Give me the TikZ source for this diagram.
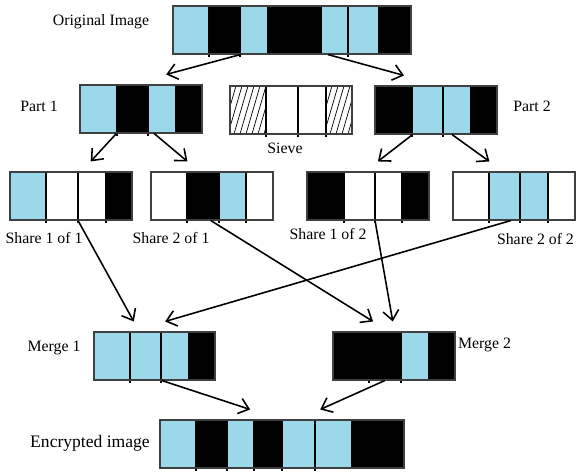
\documentclass[tikz,border=0pt]{standalone}
\usepackage{fontspec}
\setmainfont{Liberation Serif}
\usetikzlibrary{arrows.meta,calc,fit}

\definecolor{cellCyan}{RGB}{155,217,234}
\definecolor{edgeGray}{RGB}{64,64,64}

% fill the cells of one strip: #1 top, #2 bottom, #3 list of x0/x1/colour
\newcommand{\stripcells}[3]{%
  \foreach \xa/\xb/\col in {#3} \fill[\col] (\xa,#1) rectangle (\xb,#2);}
% thin cell borders, sticking out a little below the strip
\newcommand{\stripdividers}[3]{%
  \foreach \xd in {#3} \draw[cellLine] (\xd,#1) -- (\xd,#2+3);}
% arrow from a point on the bottom of #1 to just above the top of #3
\newcommand{\flowlink}[4]{%
  \draw[flowArrow] ($(#1.south west)!#2!(#1.south east)$) --
    ($(#3.north west)!#4!(#3.north east)+(0,-10)$);}

\begin{document}
\begin{tikzpicture}[
    x=0.02cm, y=-0.02cm,
    stripBox/.style={draw=edgeGray, line width=0.6pt, inner sep=0pt},
    cellLine/.style={draw=black, line width=0.6pt},
    hatchLine/.style={draw=black, line width=0.4pt},
    labelText/.style={font=\fontsize{9}{11}\selectfont, inner sep=1pt},
    flowArrow/.style={line width=0.9pt, -{Straight Barb[length=5.5pt,width=9pt]}}
]
    \useasboundingbox (0,0) rectangle (576,472);

    % --- ORIGINAL IMAGE ---
    \stripcells{6}{54}{173/209/cellCyan, 209/240/black, 240/267/cellCyan,
                       267/322/black, 322/378/cellCyan, 378/411/black}
    \stripdividers{6}{54}{209,240,348}
    \node[stripBox, fit={(173,6) (411,54)}] (origImg) {};
    \node[labelText] (origLabel) at (101,22) {Original Image};

    % --- PART 1, SIEVE, PART 2 ---
    \stripcells{85}{133}{80/117/cellCyan, 117/148/black, 148/175/cellCyan, 175/202/black}
    \stripdividers{85}{133}{117,148}
    \node[stripBox, fit={(80,85) (202,133)}] (partOne) {};
    \node[labelText] (partOneLabel) at (39,106) {Part 1};

    \begin{scope}
        \clip (230,86) rectangle (266,134) (326,86) rectangle (352,134);
        \foreach \s in {216,222,...,356} \draw[hatchLine] (\s,134) -- ++(14,-48);
    \end{scope}
    \stripdividers{86}{134}{266,298,326}
    \node[stripBox, fit={(230,86) (352,134)}] (sieveBox) {};
    \node[labelText] (sieveLabel) at (285,148) {Sieve};

    \stripcells{86}{134}{375/412/black, 412/470/cellCyan, 470/497/black}
    \stripdividers{86}{134}{412,443}
    \node[stripBox, fit={(375,86) (497,134)}] (partTwo) {};
    \node[labelText] (partTwoLabel) at (532,106) {Part 2};

    % --- SHARES ---
    \stripcells{172}{220}{10/46/cellCyan, 106/132/black}
    \stripdividers{172}{220}{46,78,106}
    \node[stripBox, fit={(10,172) (132,220)}] (shareOneA) {};
    \node[labelText] (shareOneALabel) at (44,238) {Share 1 of 1};

    \stripcells{172}{220}{187/219/black, 219/246/cellCyan}
    \stripdividers{172}{220}{187,219,246}
    \node[stripBox, fit={(151,172) (273,220)}] (shareTwoA) {};
    \node[labelText] (shareTwoALabel) at (171,238) {Share 2 of 1};

    \stripcells{172}{220}{307/344/black, 402/429/black}
    \stripdividers{172}{220}{344,375,402}
    \node[stripBox, fit={(307,172) (429,220)}] (shareOneB) {};
    \node[labelText] (shareOneBLabel) at (328,234) {Share 1 of 2};

    \stripcells{172}{220}{489/548/cellCyan}
    \stripdividers{172}{220}{489,520,548}
    \node[stripBox, fit={(453,172) (575,220)}] (shareTwoB) {};
    \node[labelText, anchor=east] (shareTwoBLabel) at (576,239) {Share 2 of 2};

    % --- MERGES ---
    \stripcells{332}{380}{94/188/cellCyan, 188/215/black}
    \stripdividers{332}{380}{130,161}
    \node[stripBox, fit={(94,332) (215,380)}] (mergeOne) {};
    \node[labelText] (mergeOneLabel) at (54,348) {Merge 1};

    \stripcells{332}{380}{333/401/black, 401/428/cellCyan, 428/455/black}
    \stripdividers{332}{380}{369,401}
    \node[stripBox, fit={(333,332) (455,380)}] (mergeTwo) {};
    \node[labelText, anchor=west] (mergeTwoLabel) at (456,345) {Merge 2};

    % --- ENCRYPTED IMAGE ---
    \stripcells{420}{468}{160/196/cellCyan, 196/227/black, 227/254/cellCyan,
                          254/282/black, 282/351/cellCyan, 351/404/black}
    \stripdividers{420}{468}{196,227,254,282,315}
    \node[stripBox, fit={(160,420) (404,468)}] (encImg) {};
    \node[labelText, font=\fontsize{10}{12}\selectfont] (encLabel) at (90,443) {Encrypted image};

    % --- FLOW ARROWS ---
    \flowlink{origImg}{0.285}{partOne}{0.705}
    \flowlink{origImg}{0.65}{partTwo}{0.24}
    \flowlink{partOne}{0.30}{shareOneA}{0.66}
    \flowlink{partOne}{0.607}{shareTwoA}{0.30}
    \flowlink{partTwo}{0.31}{shareOneB}{0.58}
    \flowlink{partTwo}{0.63}{shareTwoB}{0.30}
    \flowlink{shareOneA}{0.557}{mergeOne}{0.33}
    \flowlink{shareTwoA}{0.49}{mergeTwo}{0.33}
    \flowlink{shareOneB}{0.557}{mergeTwo}{0.49}
    \flowlink{shareTwoB}{0.475}{mergeOne}{0.587}
    \flowlink{mergeOne}{0.56}{encImg}{0.37}
    \flowlink{mergeTwo}{0.426}{encImg}{0.656}

\end{tikzpicture}
\end{document}
